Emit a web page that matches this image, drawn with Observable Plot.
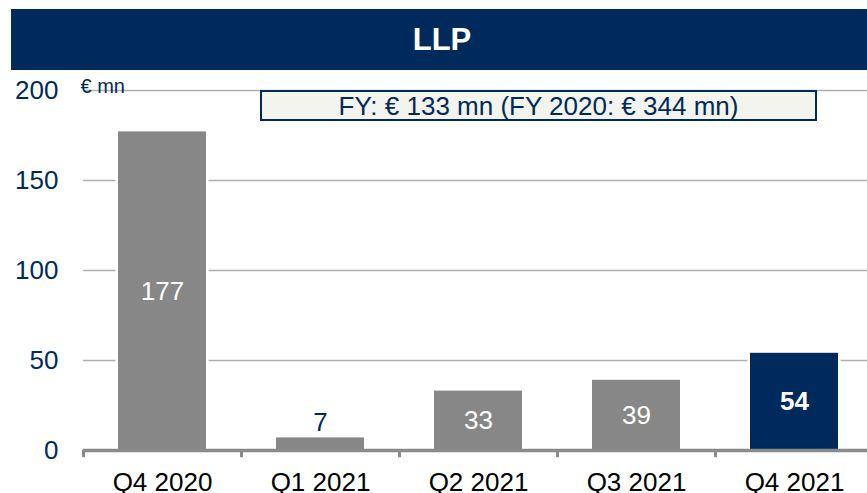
<!DOCTYPE html>
<html>
<head>
<meta charset="utf-8">
<script src="https://cdn.jsdelivr.net/npm/d3@7"></script>
<script src="https://cdn.jsdelivr.net/npm/@observablehq/plot@0.6"></script>
<style>
  html, body { margin: 0; padding: 0; background: #fff; overflow: hidden; }
  body { width: 867px; height: 493px; position: relative; font-family: "Liberation Sans", Arial, sans-serif; }
  #header { position: absolute; left: 11px; top: 9px; width: 856px; height: 61px; background: #002a5c;
            color: #fff; font-weight: bold; font-size: 31px; display: flex; align-items: center; justify-content: center; padding-left: 6px; box-sizing: border-box; }
  #chart { position: absolute; left: 0; top: 70px; width: 867px; height: 423px; overflow: hidden; }
  #chart svg { max-width: none !important; }
  #fybox { position: absolute; left: 260px; top: 90px; width: 557px; height: 31px; box-sizing: border-box;
           border: 2px solid #002a5c; background: #f4f4ef; color: #002a5c; font-size: 26px;
           display: flex; align-items: center; justify-content: center; line-height: 1; }
</style>
</head>
<body>
<div id="header">LLP</div>
<div id="chart"></div>
<div id="fybox"></div>
<script>
const categories = ["Q4 2020", "Q1 2021", "Q2 2021", "Q3 2021", "Q4 2021"];
const values = [177, 7, 33, 39, 54];
const yTicks = [0, 50, 100, 150, 200];
const highlight = "Q4 2021";
const unitLabel = "€ mn";
const summaryText = "FY: € 133 mn (FY 2020: € 344 mn)";

const navy = "#002a5c";
const gray = "#878787";
const data = categories.map((c, i) => ({cat: c, value: values[i]}));

const W = 873, ML = 83;
const step = (W - ML) / categories.length;

document.getElementById("fybox").textContent = summaryText;

const chart = Plot.plot({
  width: W,
  height: 423,
  marginTop: 20,
  marginBottom: 43,
  marginLeft: ML,
  marginRight: 0,
  style: {fontFamily: "'Liberation Sans', Arial, sans-serif", fontSize: "26px", background: "transparent"},
  x: {domain: categories, paddingInner: 0.443, paddingOuter: 0.2215},
  y: {domain: [0, 200]},
  marks: [
    Plot.gridY(yTicks.filter(t => t > 0), {stroke: "#b0b0b0", strokeWidth: 1.5, strokeOpacity: 1}),
    Plot.barY(data, {x: "cat", y: "value", fill: "white", insetLeft: -2.5, insetRight: -2.5, insetTop: -2.5}),
    Plot.barY(data, {x: "cat", y: "value", fill: d => d.cat === highlight ? navy : gray}),
    Plot.ruleY([0], {stroke: "#8a8a8a", strokeWidth: 3.5}),
    Plot.ruleX(categories, {x: d => d, dx: -step / 2, y1: 0, y2: -4, stroke: "#8a8a8a", strokeWidth: 3}),
    Plot.axisY({ticks: yTicks, tickSize: 0, tickPadding: 25, fill: navy, fontSize: 26, label: null}),
    Plot.axisX({tickSize: 0, tickPadding: 22, fill: "#000", fontSize: 26, label: null}),
    Plot.text(data.filter(d => d.value >= 15 && d.cat !== highlight), {
      x: "cat", y: d => d.value / 2, text: d => String(d.value),
      fill: "white", fontSize: 26
    }),
    Plot.text(data.filter(d => d.value >= 15 && d.cat === highlight), {
      x: "cat", y: d => d.value / 2, text: d => String(d.value),
      fill: "white", fontSize: 26, fontWeight: "bold"
    }),
    Plot.text(data.filter(d => d.value < 15), {
      x: "cat", y: "value", text: d => String(d.value), dy: -15,
      fill: navy, fontSize: 26
    }),
    Plot.text([unitLabel], {frameAnchor: "top-left", textAnchor: "start", lineAnchor: "bottom", dx: -3, dy: 2, fill: navy, fontSize: 20})
  ]
});
document.getElementById("chart").appendChild(chart);
</script>
</body>
</html>
